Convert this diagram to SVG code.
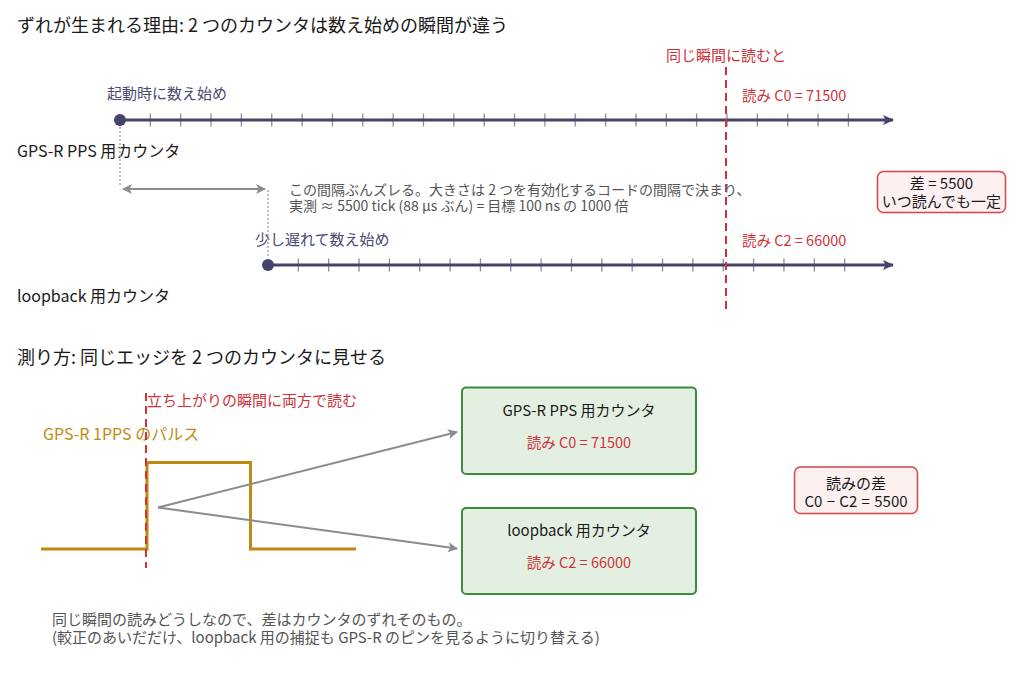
<svg xmlns="http://www.w3.org/2000/svg" width="1034" height="682" viewBox="0 0 1034 682">
<defs>
<style>
text{font-family:"Noto Sans CJK JP","Noto Sans",sans-serif;}
.h{font-size:18px;fill:#1a1a1a;}
.lbl{font-size:15px;fill:#1a1a1a;}
.side{font-size:16px;fill:#1a1a1a;}
.slate{font-size:15px;fill:#4a4a72;}
.red{font-size:14.5px;fill:#d0323a;}
.redl{font-size:15px;fill:#d0323a;}
.note{font-size:14px;fill:#555555;}
.note2{font-size:15px;fill:#555555;}
.axis{stroke:#44446a;stroke-width:3;fill:none;}
.tick{stroke:#8c8ca8;stroke-width:1.3;fill:none;}
.rdash{stroke:#d0323a;stroke-width:2;stroke-dasharray:8,5;fill:none;}
.dot{stroke:#a8a8a8;stroke-width:1.5;stroke-dasharray:2,2;fill:none;}
.gray{stroke:#8c8c8c;stroke-width:2;fill:none;}
.pulse{stroke:#c08a12;stroke-width:3;fill:none;}
.box{fill:#e3f0e1;stroke:#3d8b3d;stroke-width:2;}
.pbox{fill:#fcf0f0;stroke:#d64545;stroke-width:1.5;}
</style>
<marker id="ax" markerWidth="12" markerHeight="12" refX="10" refY="5" orient="auto" markerUnits="userSpaceOnUse">
<path d="M0,0 L11,5 L0,10 L2.5,5 z" fill="#44446a"/>
</marker>
<marker id="ga" markerWidth="12" markerHeight="12" refX="9" refY="5" orient="auto-start-reverse" markerUnits="userSpaceOnUse">
<path d="M0,0 L10,5 L0,10 L2.5,5 z" fill="#8c8c8c"/>
</marker>
</defs>

<text class="h" x="17" y="32">ずれが生まれる理由: 2 つのカウンタは数え始めの瞬間が違う</text>

<g id="counter-gps">
<text class="side" x="17" y="157">GPS-R PPS 用カウンタ</text>
<text class="slate" x="107" y="99">起動時に数え始め</text>
<path class="tick" d="M150.35,113.5V126.5M180.7,113.5V126.5M211.05,113.5V126.5M241.4,113.5V126.5M271.75,113.5V126.5M302.1,113.5V126.5M332.45,113.5V126.5M362.8,113.5V126.5M393.15,113.5V126.5M423.5,113.5V126.5M453.85,113.5V126.5M484.2,113.5V126.5M514.55,113.5V126.5M544.9,113.5V126.5M575.25,113.5V126.5M605.6,113.5V126.5M635.95,113.5V126.5M666.3,113.5V126.5M696.65,113.5V126.5M727,113.5V126.5M757.35,113.5V126.5M787.7,113.5V126.5M818.05,113.5V126.5M848.4,113.5V126.5"/>
<line class="axis" x1="120" y1="120" x2="893" y2="120" marker-end="url(#ax)"/>
<circle cx="120" cy="120" r="6" fill="#44446a"/>
<text class="red" x="742" y="101">読み C0 = 71500</text>
</g>

<g id="counter-loop">
<text class="side" x="17" y="302">loopback 用カウンタ</text>
<text class="slate" x="255" y="245">少し遅れて数え始め</text>
<path class="tick" d="M298.35,258.5V271.5M328.7,258.5V271.5M359.05,258.5V271.5M389.4,258.5V271.5M419.75,258.5V271.5M450.1,258.5V271.5M480.45,258.5V271.5M510.8,258.5V271.5M541.15,258.5V271.5M571.5,258.5V271.5M601.85,258.5V271.5M632.2,258.5V271.5M662.55,258.5V271.5M692.9,258.5V271.5M723.25,258.5V271.5M753.6,258.5V271.5M783.95,258.5V271.5M814.3,258.5V271.5M844.65,258.5V271.5"/>
<line class="axis" x1="268" y1="265" x2="893" y2="265" marker-end="url(#ax)"/>
<circle cx="268" cy="265" r="6" fill="#44446a"/>
<text class="red" x="742" y="246">読み C2 = 66000</text>
</g>

<g id="read-instant">
<text class="redl" x="726" y="61" text-anchor="middle">同じ瞬間に読むと</text>
<line class="rdash" x1="726" y1="67" x2="726" y2="310"/>
</g>

<g id="gap-note">
<text class="note" x="289" y="194.5">この間隔ぶんズレる。大きさは 2 つを有効化するコードの間隔で決まり、</text>
<text class="note" x="289" y="211">実測 ≈ 5500 tick (88 µs ぶん) = 目標 100 ns の 1000 倍</text>
</g>

<g id="diff-top">
<rect class="pbox" x="877.5" y="171.5" width="128" height="41" rx="6"/>
<text class="lbl" x="941.5" y="189" text-anchor="middle">差 = 5500</text>
<text class="lbl" x="941.5" y="207" text-anchor="middle">いつ読んでも一定</text>
</g>

<text class="h" x="17" y="364">測り方: 同じエッジを 2 つのカウンタに見せる</text>

<g id="pulse">
<text class="redl" x="147" y="406">立ち上がりの瞬間に両方で読む</text>
<text class="side" x="43" y="440" style="fill:#c08a12">GPS-R 1PPS のパルス</text>
<path class="pulse" d="M41,549H147V462.5H250.5V549H356"/>
<line class="rdash" x1="146" y1="393" x2="146" y2="568"/>
</g>

<g id="box-gps">
<rect class="box" x="462" y="387.5" width="234" height="86.5" rx="4"/>
<text class="lbl" x="579" y="415.5" text-anchor="middle">GPS-R PPS 用カウンタ</text>
<text class="red" x="579" y="448" text-anchor="middle">読み C0 = 71500</text>
</g>

<g id="box-loop">
<rect class="box" x="462" y="508" width="234" height="86" rx="4"/>
<text class="lbl" x="579" y="536" text-anchor="middle">loopback 用カウンタ</text>
<text class="red" x="579" y="568" text-anchor="middle">読み C2 = 66000</text>
</g>

<g id="diff-bottom">
<rect class="pbox" x="794.5" y="467" width="123" height="46.5" rx="6"/>
<text class="lbl" x="856" y="488.5" text-anchor="middle">読みの差</text>
<text class="lbl" x="856" y="506.5" text-anchor="middle" style="word-spacing:1px">C0 − C2 = 5500</text>
</g>

<g id="connectors">
<line class="dot" x1="120" y1="127" x2="120" y2="187"/>
<line class="dot" x1="268" y1="190" x2="268" y2="258"/>
<line class="gray" x1="123" y1="189" x2="265" y2="189" marker-start="url(#ga)" marker-end="url(#ga)"/>
<line class="gray" x1="158" y1="507.5" x2="457" y2="432" marker-end="url(#ga)"/>
<line class="gray" x1="158" y1="507.5" x2="457" y2="548.5" marker-end="url(#ga)"/>
</g>

<g id="footer">
<text class="note2" x="52" y="625">同じ瞬間の読みどうしなので、差はカウンタのずれそのもの。</text>
<text class="note2" x="52" y="643">(較正のあいだだけ、loopback 用の捕捉も GPS-R のピンを見るように切り替える)</text>
</g>
</svg>
